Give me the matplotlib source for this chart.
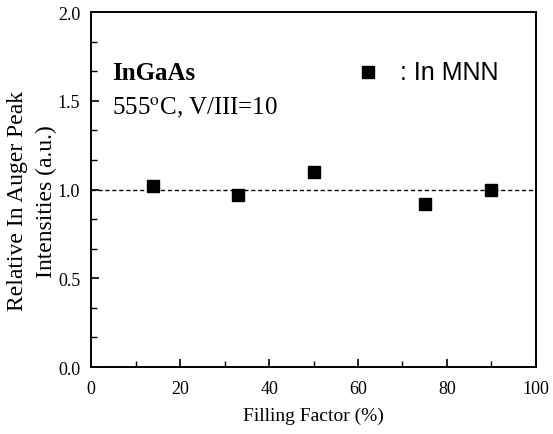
import matplotlib
matplotlib.use('Agg')
import matplotlib.pyplot as plt
from matplotlib.ticker import MultipleLocator, AutoMinorLocator

# ============ 数据 ============
filling_factor = [14, 33, 50, 75, 90]
in_mnn = [1.02, 0.97, 1.097, 0.918, 1.00]
ref_level = 1.0

plt.rcParams['font.family'] = ['Liberation Serif', 'DejaVu Serif']
plt.rcParams['mathtext.fontset'] = 'stix'

fig = plt.figure(figsize=(5.53, 4.35), dpi=100)
ax = fig.add_axes([0.165, 0.154, 0.804, 0.816])

ax.axhline(ref_level, color='black', lw=1.0, ls=(0, (3, 2)), zorder=1)
ax.plot(filling_factor, in_mnn, 's', color='black', markersize=8.8, zorder=3)

ax.set_xlim(0, 100)
ax.set_ylim(0.0, 2.0)
ax.xaxis.set_major_locator(MultipleLocator(20))
ax.xaxis.set_minor_locator(MultipleLocator(10))
ax.yaxis.set_major_locator(MultipleLocator(0.5))
ax.yaxis.set_minor_locator(AutoMinorLocator(3))
ax.yaxis.set_major_formatter(plt.FormatStrFormatter('%.1f'))

ax.tick_params(which='both', direction='in', top=False, right=False, labelsize=13)
ax.tick_params(axis='x', which='both', pad=9)
ax.tick_params(axis='y', which='both', pad=8)
ax.tick_params(which='major', length=6, width=1.2)
ax.tick_params(which='minor', length=4, width=1.0)
for sp in ax.spines.values():
    sp.set_linewidth(1.4)

ax.set_xlabel('Filling Factor (%)', fontsize=14, labelpad=7)
ax.set_ylabel('Relative In Auger Peak\nIntensities (a.u.)', fontsize=17,
              linespacing=1.45)
ax.yaxis.set_label_coords(-0.078, 0.47)

ax.text(4.7, 1.66, 'InGaAs', fontsize=18, fontweight='bold', va='center', ha='left')
ax.text(4.7, 1.465, r'555$^{\rm o}$C, V/III=10', fontsize=18, va='center', ha='left')

ax.plot([62.3], [1.66], 's', color='black', markersize=9)
ax.text(69.5, 1.66, ': In MNN', fontsize=18, va='center', ha='left',
        family=['Liberation Sans', 'DejaVu Sans'])

fig.savefig('out.png', dpi=100)
